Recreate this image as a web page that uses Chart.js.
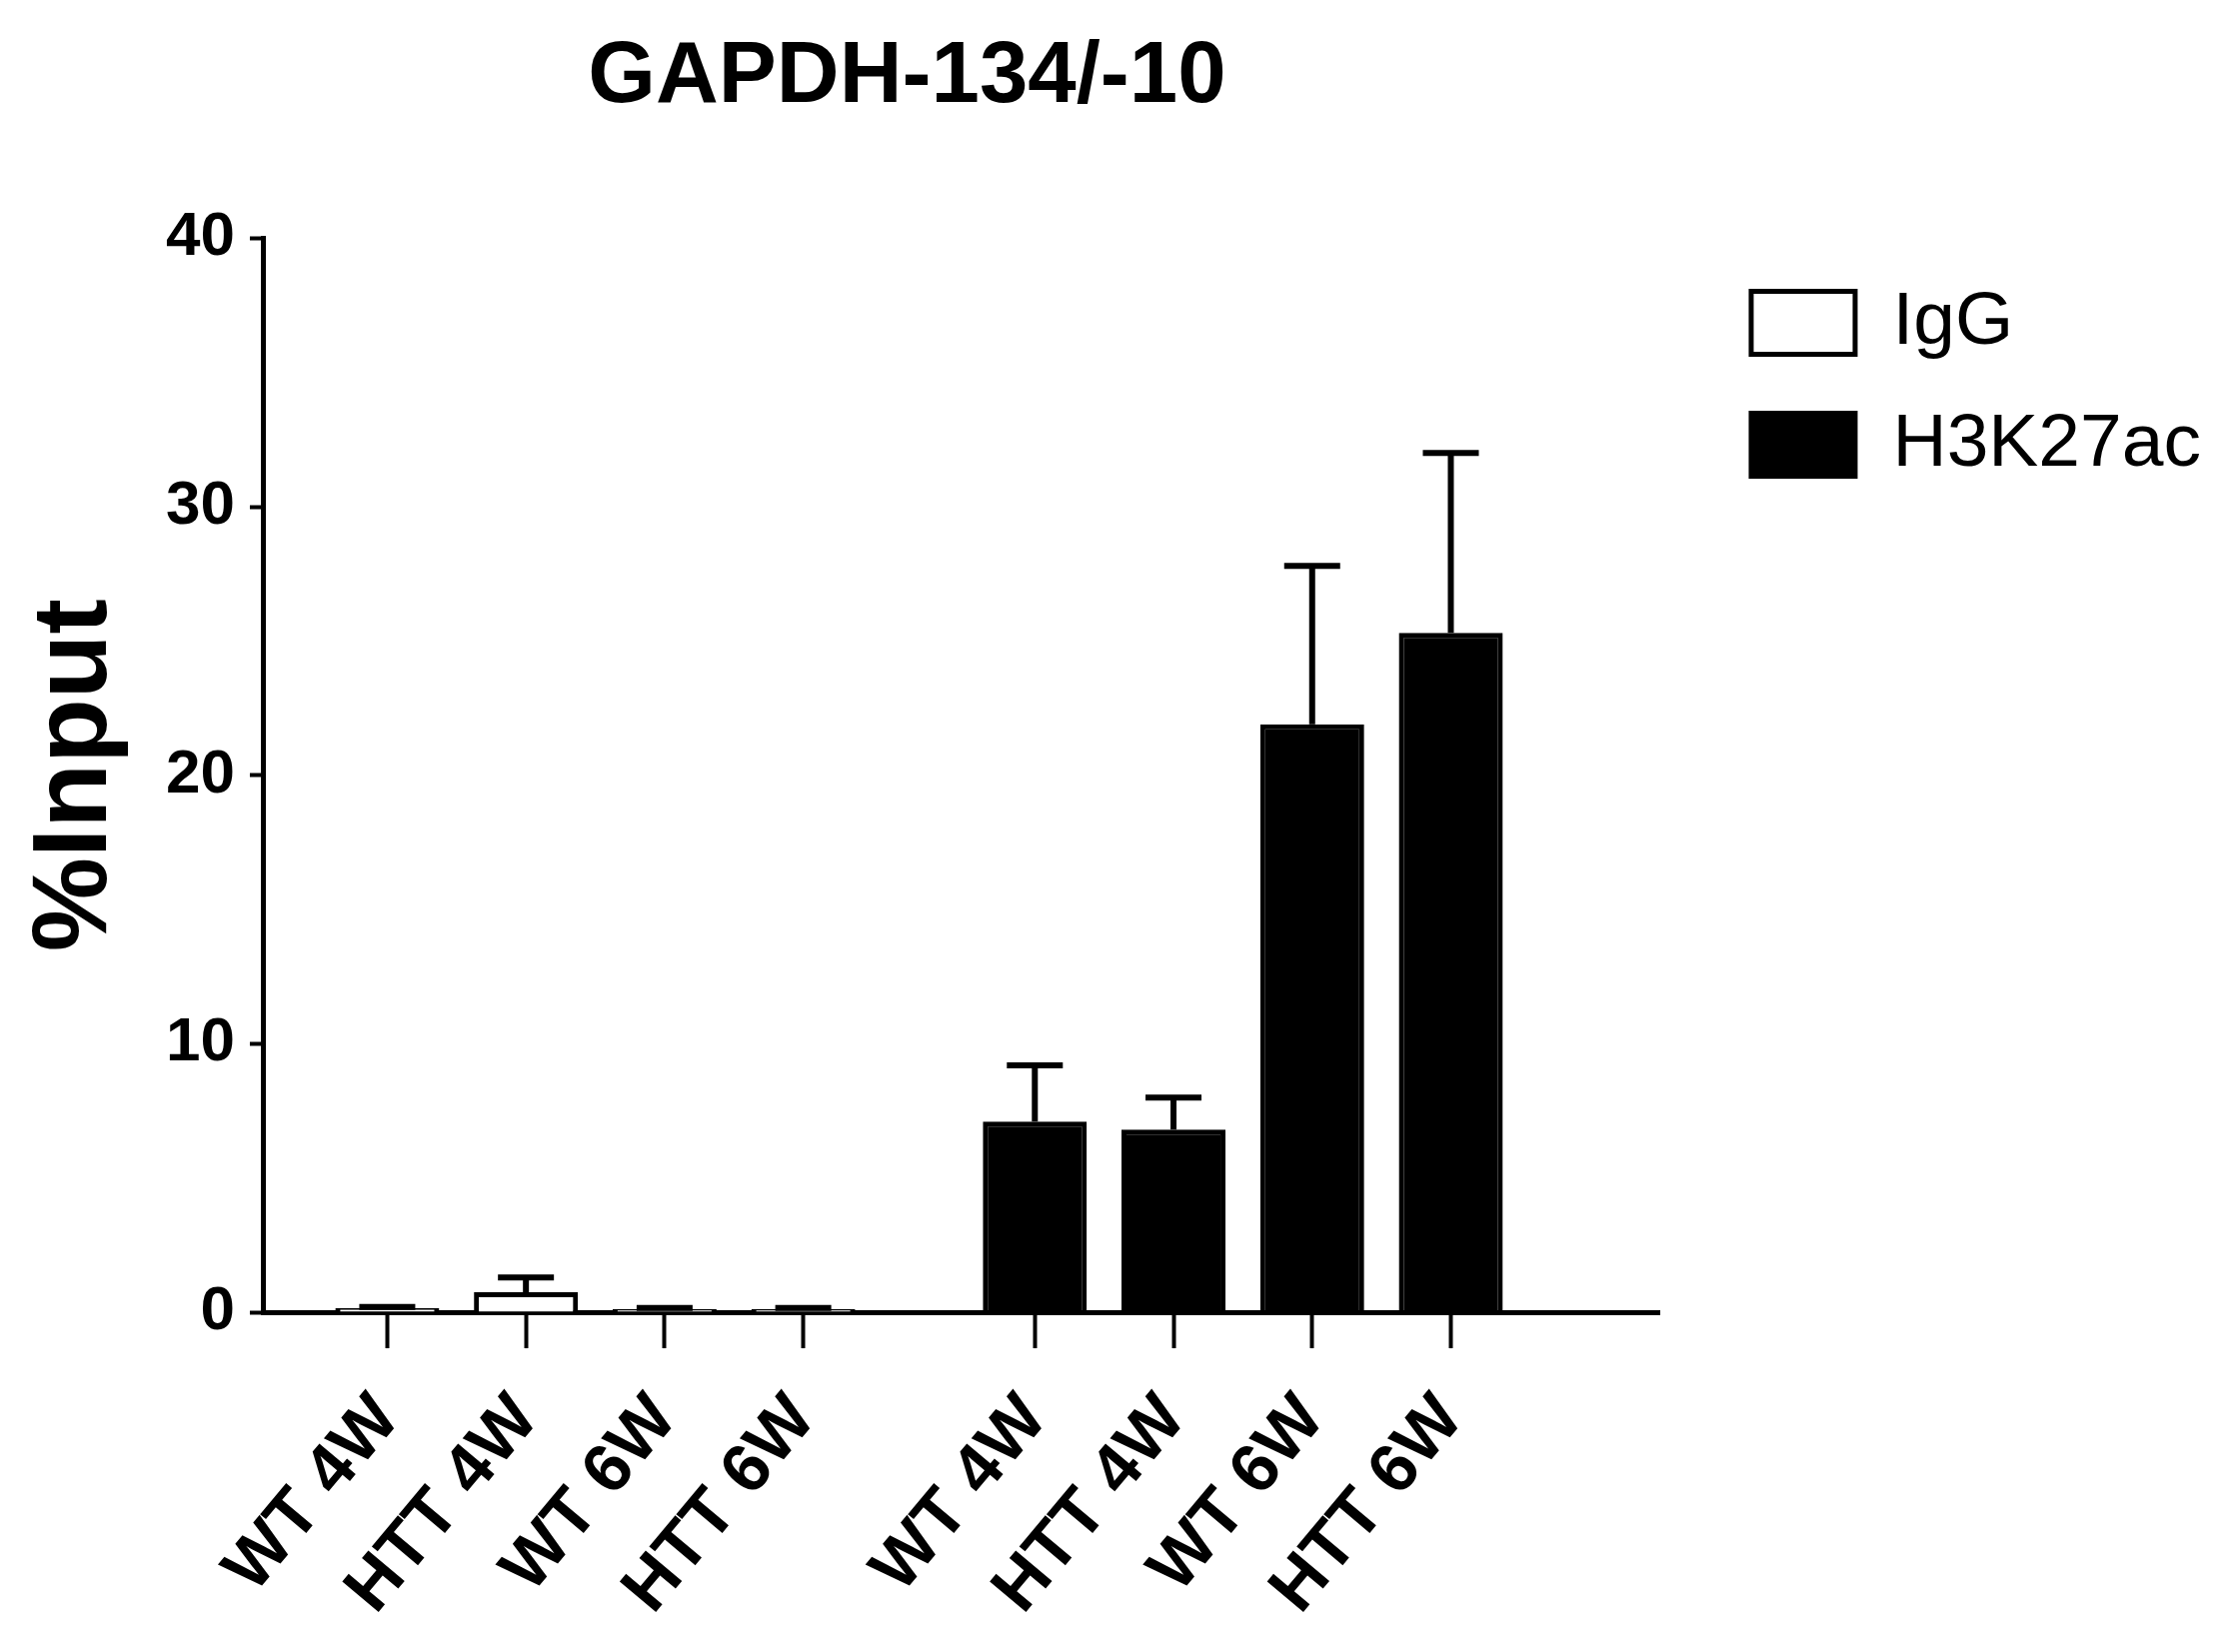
<!DOCTYPE html>
<html>
<head>
<meta charset="utf-8">
<title>GAPDH-134/-10</title>
<script src="https://cdn.jsdelivr.net/npm/chart.js@4.4.0/dist/chart.umd.min.js"></script>
<style>
  html, body { margin: 0; padding: 0; background: #fff; }
</style>
</head>
<body>
<canvas id="chart" width="2234" height="1653"></canvas>
<script>
// Samples, repeated for each antibody group
const sampleLabels = ['WT 4W', 'HTT 4W', 'WT 6W', 'HTT 6W'];

// %Input values (bar top and upper error)
const iggValues = [0.15, 0.75, 0.12, 0.12];
const iggErrors = [0.05, 0.55, 0.04, 0.04];
const h3k27acValues = [7.1, 6.8, 21.9, 25.3];
const h3k27acErrors = [2.1, 1.2, 5.9, 6.7];

const yTicks = [0, 10, 20, 30, 40];

// extra space between the two groups, in bar slots
const GROUP_GAP = 0.67;
const FONT = "'Liberation Sans', Arial, sans-serif";

const xPos = (group, i) => 1 + i + group * (sampleLabels.length + GROUP_GAP);
const allPositions = [0, 1].flatMap(g => sampleLabels.map((_, i) => xPos(g, i)));
const allLabels = [...sampleLabels, ...sampleLabels];

const toPoints = (group, values) => values.map((v, i) => ({ x: xPos(group, i), y: v }));

// upward error bars, drawn from dataset values through the y scale
const errorBars = {
    id: 'errorBars',
    afterDatasetsDraw(chart) {
        const ctx = chart.ctx;
        const yScale = chart.scales.y;
        chart.data.datasets.forEach((ds, di) => {
            const meta = chart.getDatasetMeta(di);
            meta.data.forEach((bar, i) => {
                const top = yScale.getPixelForValue(ds.data[i].y + ds.errors[i]);
                ctx.save();
                ctx.strokeStyle = '#000';
                ctx.lineWidth = 6;
                ctx.beginPath();
                ctx.moveTo(bar.x, bar.y);
                ctx.lineTo(bar.x, top);
                ctx.moveTo(bar.x - 28, top);
                ctx.lineTo(bar.x + 28, top);
                ctx.stroke();
                ctx.restore();
            });
        });
    }
};

// center the chart title over the bars rather than the whole plot area
const titleOverBars = {
    id: 'titleOverBars',
    afterLayout(chart) {
        const t = chart.titleBlock;
        const x = chart.scales.x;
        const mid = x.getPixelForValue((allPositions[0] + allPositions[allPositions.length - 1]) / 2) - 12;
        const half = mid - t.left;
        t.right = mid + half;
        t.left = mid - half;
    }
};

Chart.defaults.color = '#000';
Chart.defaults.font.family = FONT;

new Chart(document.getElementById('chart'), {
    type: 'bar',
    data: {
        datasets: [{
            label: 'IgG',
            data: toPoints(0, iggValues),
            errors: iggErrors,
            backgroundColor: '#fff',
            borderColor: '#000',
            borderWidth: 5
        }, {
            label: 'H3K27ac',
            data: toPoints(1, h3k27acValues),
            errors: h3k27acErrors,
            backgroundColor: '#000',
            borderColor: '#000',
            borderWidth: 5
        }]
    },
    options: {
        responsive: false,
        animation: false,
        grouped: false,
        barPercentage: 0.75,
        categoryPercentage: 1,
        layout: {
            padding: { left: 0, right: 22, top: 0, bottom: 0 }
        },
        plugins: {
            title: {
                display: true,
                text: 'GAPDH-134/-10',
                color: '#000',
                fullSize: false,
                font: { size: 87, weight: 'bold', family: FONT },
                padding: { top: 26, bottom: 108 }
            },
            legend: {
                position: 'right',
                align: 'start',
                fullSize: false,
                labels: {
                    color: '#000',
                    boxWidth: 104,
                    boxHeight: 63,
                    padding: 47,
                    font: { size: 75, family: FONT }
                }
            },
            tooltip: { enabled: false }
        },
        scales: {
            x: {
                type: 'linear',
                min: 0.11,
                max: 10.18,
                offset: false,
                afterBuildTicks(scale) {
                    scale.ticks = allPositions.map(v => ({ value: v }));
                },
                // rotated-label height estimate is generous; trim the slack
                afterFit(scale) {
                    scale.height -= 10;
                },
                grid: {
                    display: true,
                    offset: false,
                    drawOnChartArea: false,
                    color: '#000',
                    tickLength: 36,
                    tickWidth: 4
                },
                border: { display: true, color: '#000', width: 5 },
                ticks: {
                    autoSkip: false,
                    minRotation: 50,
                    maxRotation: 50,
                    padding: 32,
                    color: '#000',
                    font: { size: 69, weight: 'bold', family: FONT },
                    callback: (value, index) => allLabels[index]
                }
            },
            y: {
                min: 0,
                max: 40,
                afterBuildTicks(scale) {
                    scale.ticks = yTicks.map(v => ({ value: v }));
                },
                grid: {
                    display: true,
                    drawOnChartArea: false,
                    color: '#000',
                    tickLength: 14,
                    tickWidth: 4
                },
                border: { display: true, color: '#000', width: 5 },
                ticks: {
                    padding: 15,
                    color: '#000',
                    font: { size: 62, weight: 'bold', family: FONT }
                },
                title: {
                    display: true,
                    text: '%Input',
                    color: '#000',
                    font: { size: 106, weight: 'bold', family: FONT, lineHeight: 1 },
                    padding: { top: 24, bottom: 21 }
                }
            },
            // empty spacer between the plot and the legend
            ySpacer: {
                type: 'linear',
                position: 'right',
                display: false,
                afterFit(scale) {
                    scale.width = 44;
                }
            }
        }
    },
    plugins: [errorBars, titleOverBars]
});
</script>
</body>
</html>
